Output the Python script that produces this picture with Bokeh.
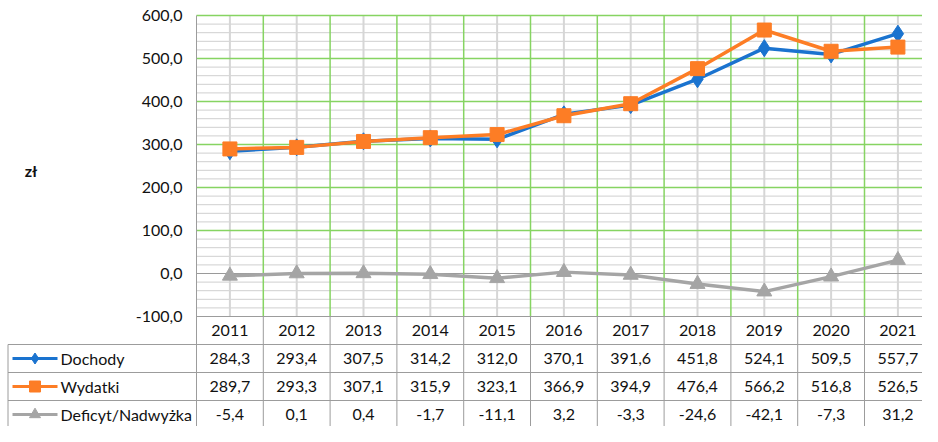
from bokeh.plotting import figure
from bokeh.models import Range1d
from bokeh.core.properties import value
from bokeh.embed import file_html
from bokeh.resources import INLINE

# ---------------- data ----------------
years = ["2011", "2012", "2013", "2014", "2015", "2016", "2017", "2018", "2019", "2020", "2021"]
dochody = [284.3, 293.4, 307.5, 314.2, 312.0, 370.1, 391.6, 451.8, 524.1, 509.5, 557.7]
wydatki = [289.7, 293.3, 307.1, 315.9, 323.1, 366.9, 394.9, 476.4, 566.2, 516.8, 526.5]
deficyt = [-5.4, 0.1, 0.4, -1.7, -11.1, 3.2, -3.3, -24.6, -42.1, -7.3, 31.2]
series_names = ["Dochody", "Wydatki", "Deficyt/Nadwyżka"]
y_ticks = [-100, 0, 100, 200, 300, 400, 500, 600]
y_tick_labels = ["-100,0", "0,0", "100,0", "200,0", "300,0", "400,0", "500,0", "600,0"]
y_title = "zł"

# ---------------- layout / styles ----------------
W, H = 922, 426
LEFT = 196.0      # px of plot-area left edge
COL = 66.8        # px per category
TOP = 15.0        # px of plot-area top
BOT = 316.0       # px of plot-area bottom
ROW = 28          # table row height px
YMIN, YMAX = y_ticks[0], y_ticks[-1]
ppu = (BOT - TOP) / (YMAX - YMIN)

FONT = value("Lato")
TXT = "#111111"
BLUE = "#1a73cf"
ORANGE = "#fd7d25"
GRAY = "#a5a5a5"
GREEN = "#86d462"
GRID_MINOR = "#cfcfcf"
GRID_CENTER = "#d6d6d6"
TABLE_LINE = "#9c9c9c"

n = len(years)
xs = list(range(n))

x_start = -0.5 - LEFT / COL
x_end = x_start + W / COL
y_end = YMAX + TOP / ppu
y_start = y_end - H / ppu

p = figure(width=W, height=H, x_range=Range1d(x_start, x_end), y_range=Range1d(y_start, y_end),
           output_backend="svg", toolbar_location=None, min_border=0,
           x_axis_location=None, y_axis_location=None, outline_line_color=None,
           title=None)
p.grid.visible = False
p.extra_x_ranges = {"px": Range1d(0, W)}
p.extra_y_ranges = {"py": Range1d(H, 0)}

# minor horizontal grid (every 20)
minor = [v for v in range(YMIN, YMAX, 20) if v % 100 != 0]
p.segment(x0=[-0.5] * len(minor), x1=[x_end] * len(minor), y0=minor, y1=minor,
          line_color=GRID_MINOR, line_width=1)
# vertical lines at category centres
p.segment(x0=xs, x1=xs, y0=[YMIN] * n, y1=[YMAX] * n, line_color=GRID_CENTER, line_width=2)
# major horizontal grid
majors = [v for v in y_ticks if v not in (YMIN, 0)]
p.segment(x0=[-0.5] * len(majors), x1=[x_end] * len(majors), y0=majors, y1=majors,
          line_color=GREEN, line_width=1.5)
p.segment(x0=[-0.5], x1=[x_end], y0=[0], y1=[0], line_color="#9a9a9a", line_width=1)
# vertical category boundaries in plot area
bounds = [i + 0.5 for i in range(n)]
p.segment(x0=bounds, x1=bounds, y0=[YMIN] * n, y1=[YMAX] * n, line_color=GREEN, line_width=1.5)

# ---------------- series ----------------
p.line(xs, dochody, line_color=BLUE, line_width=3.5)
p.scatter(xs, dochody, marker="diamond", size=17, fill_color=BLUE, line_color=BLUE)
p.line(xs, wydatki, line_color=ORANGE, line_width=3.5)
p.scatter(xs, wydatki, marker="square", size=14, fill_color=ORANGE, line_color=ORANGE)
p.line(xs, deficyt, line_color=GRAY, line_width=3.5)
p.scatter(xs, deficyt, marker="triangle", size=15, fill_color=GRAY, line_color=GRAY)

# ---------------- y axis labels ----------------
p.text(x=[-0.5] * len(y_ticks), y=y_ticks, text=y_tick_labels, x_offset=-14,
       text_align="right", text_baseline="middle", text_font=FONT,
       text_font_size="16px", text_color=TXT)
p.text(x=[30.5], y=[(YMIN + YMAX) / 2], text=[y_title], x_range_name="px",
       y_offset=4, text_align="center", text_baseline="middle", text_font=FONT,
       text_font_size="16px", text_font_style="bold", text_color=TXT)

# ---------------- data table ----------------
tbl_top = BOT
row_lines = [tbl_top + ROW * k for k in range(1, 4)]
TL = 7.5  # table left border px
# vertical lines in table
p.segment(x0=bounds, x1=bounds, y0=[tbl_top] * n, y1=[H] * n, line_color=TABLE_LINE,
          line_width=1, y_range_name="py")
p.segment(x0=[-0.5], x1=[-0.5], y0=[TOP], y1=[H], line_color=TABLE_LINE, line_width=1,
          y_range_name="py")
p.segment(x0=[TL], x1=[TL], y0=[row_lines[0]], y1=[H], line_color=TABLE_LINE, line_width=1,
          x_range_name="px", y_range_name="py")
# horizontal lines in table
p.segment(x0=[-0.5], x1=[x_end], y0=[tbl_top], y1=[tbl_top], line_color=TABLE_LINE,
          line_width=1, y_range_name="py")
p.segment(x0=[TL] * 3, x1=[W] * 3, y0=row_lines, y1=row_lines, line_color=TABLE_LINE,
          line_width=1, x_range_name="px", y_range_name="py")

def fmt(v):
    return f"{v:.1f}".replace(".", ",")

row_centers = [tbl_top + ROW * (k + 0.5) for k in range(4)]
p.text(x=xs, y=[row_centers[0]] * n, text=years, y_range_name="py", text_align="center",
       text_baseline="middle", text_font=FONT, text_font_size="16px", text_color=TXT)
for k, ser in enumerate([dochody, wydatki, deficyt]):
    p.text(x=xs, y=[row_centers[k + 1]] * n, text=[fmt(v) for v in ser], y_range_name="py",
           text_align="center", text_baseline="middle", text_font=FONT,
           text_font_size="16px", text_color=TXT)

# legend keys in table
key_cols = [BLUE, ORANGE, GRAY]
key_markers = ["diamond", "square", "triangle"]
key_sizes = [11, 11, 11]
for k in range(3):
    yc = row_centers[k + 1]
    p.segment(x0=[12], x1=[57], y0=[yc], y1=[yc], line_color=key_cols[k], line_width=3,
              x_range_name="px", y_range_name="py")
    p.scatter(x=[34.5], y=[yc], marker=key_markers[k], size=key_sizes[k],
              fill_color=key_cols[k], line_color=key_cols[k],
              x_range_name="px", y_range_name="py")
    p.text(x=[60], y=[yc], text=[series_names[k]], x_range_name="px", y_range_name="py",
           text_align="left", text_baseline="middle", text_font=FONT,
           text_font_size="16px", text_color=TXT)

open("out.html", "w").write(file_html(p, INLINE))
